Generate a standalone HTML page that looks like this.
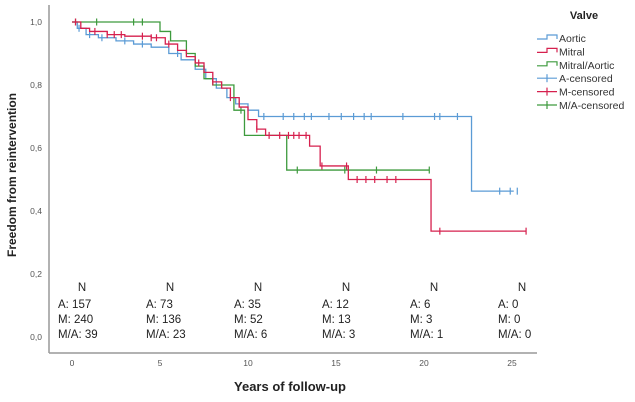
<!DOCTYPE html>
<html><head><meta charset="utf-8"><style>
body{margin:0;background:#fff;}
svg{display:block;font-family:"Liberation Sans",sans-serif;}
</style></head><body>
<svg id="c" width="635" height="402">
<line x1="49" y1="5" x2="49" y2="353" stroke="#999" stroke-width="1.5"/>
<line x1="49" y1="353" x2="537" y2="353" stroke="#999" stroke-width="1.5"/>
<text transform="translate(16,175) rotate(-90)" text-anchor="middle" font-size="12" font-weight="bold" fill="#222">Freedom from reintervention</text>
<text x="290" y="391" text-anchor="middle" font-size="13" font-weight="bold" fill="#222">Years of follow-up</text>
<g id="ticks"></g><g id="series"></g><g id="table"></g>
<g>
<text x="584" y="19" text-anchor="middle" font-size="11" font-weight="bold" fill="#222">Valve</text>
<g id="legend"></g></g>
</svg>
<script>
const xTicks=[0,5,10,15,20,25];
const yTicks=[0,0.2,0.4,0.6,0.8,1.0];
const aorticT=[0,0.3,0.8,1.5,2.5,3.5,4.5,5.5,6.2,7,7.6,8.2,8.8,9.3,10,10.6,22.7,25.1];
const aorticS=[1,0.98,0.96,0.95,0.94,0.93,0.92,0.90,0.88,0.85,0.82,0.79,0.76,0.74,0.72,0.70,0.463,0.463];
const mitralT=[0,0.5,1,2,3,4.5,5.3,6,6.5,7,7.5,8,8.5,9,9.5,10,10.5,11,13.5,14.1,15.7,20.4,25.8];
const mitralS=[1,0.98,0.97,0.96,0.955,0.95,0.93,0.91,0.89,0.87,0.84,0.81,0.79,0.76,0.73,0.69,0.66,0.64,0.606,0.543,0.50,0.336,0.336];
const maT=[0,5,5.6,6.5,7,7.5,8,9.2,9.8,12.2,20.3];
const maS=[1,0.97,0.94,0.90,0.86,0.82,0.80,0.72,0.64,0.53,0.53];
const aCens=[0.4,1,1.7,3,4,6,7.5,9.5,10.9,12,12.6,13.2,13.6,14.6,15.3,16,16.6,17,18.8,20.6,20.9,21.9,24.3,24.9,25.3];
const mCens=[0.2,1.3,2,2.4,2.8,4,4.5,4.8,5.5,7.2,8,9,10.5,11.2,11.8,12.3,12.6,12.9,13.3,14.2,15.6,16.2,16.7,17.2,17.9,18.4,20.9,25.8];
const maCens=[0.2,1.4,3.5,4,8.5,9.6,12.8,15.5,17.3,20.3];
const nCols=[0,5,10,15,20,25];
const nA=[157,73,35,12,6,0];
const nM=[240,136,52,13,3,0];
const nMA=[39,23,6,3,1,0];
const X=t=>72+t*17.6, Y=s=>337-s*315;
const NS="http://www.w3.org/2000/svg";
function mk(tag,attrs,parent,txt){const e=document.createElementNS(NS,tag);for(const k in attrs)e.setAttribute(k,attrs[k]);if(txt!==undefined)e.textContent=txt;parent.appendChild(e);return e;}
const tk=document.getElementById('ticks');
xTicks.forEach(v=>{const e=mk('text',{x:X(v),y:366,'text-anchor':'middle','font-size':'8.5',fill:'#555'},tk,String(v));

});
yTicks.forEach(v=>{const e=mk('text',{x:42,y:Y(v)+3,'text-anchor':'end','font-size':'8.5',fill:'#555'},tk,v.toFixed(1).replace('.',','));

});
function stepPath(T,S){let d='M'+X(T[0])+','+Y(S[0]);for(let i=1;i<T.length;i++){d+=' H'+X(T[i])+' V'+Y(S[i]);}return d;}
function survAt(T,S,t){let s=S[0];for(let i=0;i<T.length;i++){if(T[i]<=t)s=S[i];}return s;}
const sg=document.getElementById('series');
const series=[[aorticT,aorticS,aCens,'#5b9bd5','aortic'],[maT,maS,maCens,'#3d9a3d','mitral-aortic'],[mitralT,mitralS,mCens,'#d6204e','mitral']];
series.forEach(([T,S,C,col,nm])=>{
const p=mk('path',{d:stepPath(T,S),fill:'none',stroke:col,'stroke-width':'1.3'},sg);


C.forEach(t=>{const s=survAt(T,S,t);const l=mk('line',{x1:X(t),x2:X(t),y1:Y(s)-3.5,y2:Y(s)+3.5,stroke:col,'stroke-width':'1.2'},sg);

});
});
const tb=document.getElementById('table');
nCols.forEach((c,i)=>{const x0=X(c)-14;
const g=mk('g',{},tb);


mk('text',{x:X(c)+10,y:291,'text-anchor':'middle','font-size':'11.5',fill:'#222'},g,'N');
mk('text',{x:x0,y:308,'font-size':'11.5',fill:'#222'},g,'A: '+nA[i]);
mk('text',{x:x0,y:323,'font-size':'11.5',fill:'#222'},g,'M: '+nM[i]);
mk('text',{x:x0,y:338,'font-size':'11.5',fill:'#222'},g,'M/A: '+nMA[i]);
});
const lg=document.getElementById('legend');
const items=[['Aortic','#5b9bd5',0],['Mitral','#d6204e',0],['Mitral/Aortic','#3d9a3d',0],['A-censored','#5b9bd5',1],['M-censored','#d6204e',1],['M/A-censored','#3d9a3d',1]];
items.forEach(([lab,col,cen],i)=>{const y=38+i*13.4;
const g=mk('g',{},lg);


if(cen){mk('line',{x1:537,x2:557,y1:y,y2:y,stroke:col,'stroke-width':'1.2'},g);mk('line',{x1:547,x2:547,y1:y-4,y2:y+4,stroke:col,'stroke-width':'1.2'},g);}
else mk('path',{d:`M537,${y+1} H547 V${y-3} H557 V${y+1}`,fill:'none',stroke:col,'stroke-width':'1.2'},g);
mk('text',{x:559,y:y+4,'font-size':'10.5',fill:'#333'},g,lab);
});
</script>
</body></html>
